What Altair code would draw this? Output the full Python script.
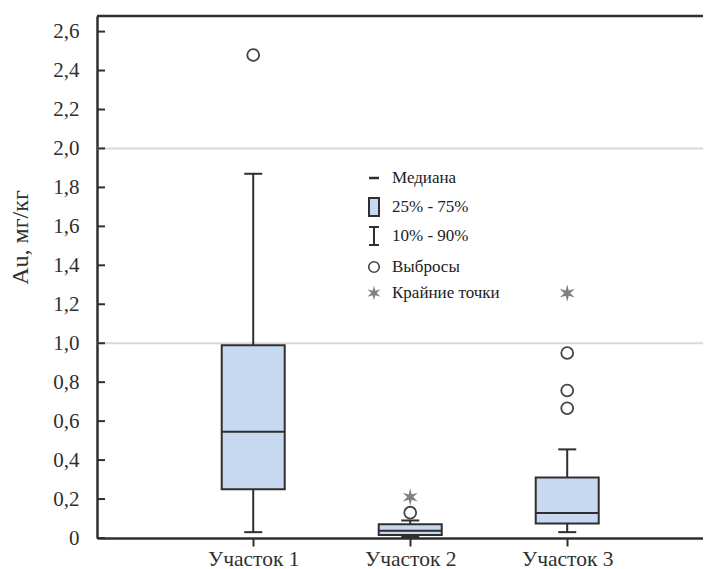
import altair as alt
import pandas as pd

# ---- data ----
sites = ["Участок 1", "Участок 2", "Участок 3"]
p10 = [0.03, 0.005, 0.03]
q1 = [0.25, 0.015, 0.075]
median = [0.545, 0.037, 0.128]
q3 = [0.99, 0.07, 0.31]
p90 = [1.87, 0.09, 0.455]

outlier_sites = ["Участок 1", "Участок 2", "Участок 3", "Участок 3", "Участок 3"]
outlier_values = [2.48, 0.13, 0.95, 0.757, 0.666]

extreme_sites = ["Участок 2", "Участок 3"]
extreme_values = [0.21, 1.257]

y_ticks = [0, 0.2, 0.4, 0.6, 0.8, 1.0, 1.2, 1.4, 1.6, 1.8, 2.0, 2.2, 2.4, 2.6]
grid_values = [1.0, 2.0]
legend_labels = ["Медиана", "25% - 75%", "10% - 90%", "Выбросы", "Крайние точки"]
y_title = "Au, мг/кг"

# ---- tables ----
box_df = pd.DataFrame({"site": sites, "p10": p10, "q1": q1, "median": median, "q3": q3, "p90": p90})
out_df = pd.DataFrame({"site": outlier_sites, "v": outlier_values})
ext_df = pd.DataFrame({"site": extreme_sites, "v": extreme_values})
tick_df = pd.DataFrame({"v": y_ticks})
grid_df = pd.DataFrame({"v": grid_values})

# ---- style ----
FONT = "'Liberation Serif', 'Times New Roman', 'DejaVu Serif', serif"
DARK = "#2f2f2f"
FILL = "#c6d9f0"
W, H = 606, 522
STAR = ("M0,-1 L0.175,-0.303 L0.866,-0.5 L0.35,0 L0.866,0.5 L0.175,0.303 "
        "L0,1 L-0.175,0.303 L-0.866,0.5 L-0.35,0 L-0.866,-0.5 L-0.175,-0.303 Z")

yscale = alt.Scale(domain=[0, 2.68], nice=False, zero=True)
yaxis = alt.Axis(
    values=y_ticks,
    labelExpr="datum.value == 0 ? '0' : replace(format(datum.value, '.1f'), '.', ',')",
    labelFont=FONT, labelFontSize=21, labelColor=DARK, labelPadding=18,
    ticks=False, tickSize=0, grid=False,
    domainColor=DARK, domainWidth=2.5,
    title=y_title, titleFont=FONT, titleFontSize=24, titleFontWeight="normal",
    titleColor=DARK, titleX=-70, titleY=221, titleAlign="center",
    titleBaseline="alphabetic",
)
xscale = alt.Scale(type="point", domain=sites, padding=0.93, align=0.535)
xaxis = alt.Axis(
    title=None, labelAngle=0, labelFont=FONT, labelFontSize=21.5, labelColor=DARK,
    labelPadding=2, tickSize=8, tickWidth=2, tickColor=DARK,
    domainColor=DARK, domainWidth=2.5, grid=False,
)


def Y(field):
    return alt.Y(f"{field}:Q", scale=yscale, axis=yaxis)


def X():
    return alt.X("site:N", scale=xscale, axis=xaxis, sort=sites)


grid = alt.Chart(grid_df).mark_rule(color="#d9d9d9", strokeWidth=2).encode(y=Y("v"))
top_border = alt.Chart(alt.Data(values=[{}])).mark_rule(color=DARK, strokeWidth=2.5).encode(
    x=alt.value(0), x2=alt.value(W), y=alt.value(0))
yticks = alt.Chart(tick_df).mark_rule(color=DARK, strokeWidth=2).encode(
    x=alt.value(0), x2=alt.value(8), y=Y("v"))

base = alt.Chart(box_df)
wh_hi = base.mark_rule(color=DARK, strokeWidth=2).encode(x=X(), y=Y("q3"), y2="p90")
wh_lo = base.mark_rule(color=DARK, strokeWidth=2).encode(x=X(), y=Y("p10"), y2="q1")
boxes = base.mark_bar(size=63, fill=FILL, stroke=DARK, strokeWidth=2).encode(x=X(), y=Y("q1"), y2="q3")
med = base.mark_tick(size=63, thickness=2, color=DARK, opacity=1).encode(x=X(), y=Y("median"))
cap_hi = base.mark_tick(size=18, thickness=2, color=DARK, opacity=1).encode(x=X(), y=Y("p90"))
cap_lo = base.mark_tick(size=18, thickness=2, color=DARK, opacity=1).encode(x=X(), y=Y("p10"))

outs = alt.Chart(out_df).mark_point(shape="circle", size=140, filled=False, color="#444444",
                                    strokeWidth=1.8, opacity=1).encode(x=X(), y=Y("v"))
exts = alt.Chart(ext_df).mark_point(shape=STAR, size=300, filled=True, color="#808080",
                                    opacity=1, strokeWidth=0).encode(x=X(), y=Y("v"))

# ---- legend (drawn) ----
LX, TX = 277, 295
rows = [162, 191, 220, 251, 277]
one = alt.Data(values=[{}])
lg = [
    alt.Chart(one).mark_rule(color=DARK, strokeWidth=2.5).encode(
        x=alt.value(LX - 5), x2=alt.value(LX + 5), y=alt.value(rows[0])),
    alt.Chart(one).mark_rect(fill=FILL, stroke=DARK, strokeWidth=2).encode(
        x=alt.value(LX - 5), x2=alt.value(LX + 5), y=alt.value(rows[1] - 9), y2=alt.value(rows[1] + 9)),
    alt.Chart(one).mark_rule(color=DARK, strokeWidth=2).encode(
        x=alt.value(LX), y=alt.value(rows[2] - 9), y2=alt.value(rows[2] + 9)),
    alt.Chart(one).mark_rule(color=DARK, strokeWidth=2).encode(
        x=alt.value(LX - 5), x2=alt.value(LX + 5), y=alt.value(rows[2] - 9)),
    alt.Chart(one).mark_rule(color=DARK, strokeWidth=2).encode(
        x=alt.value(LX - 5), x2=alt.value(LX + 5), y=alt.value(rows[2] + 9)),
    alt.Chart(one).mark_point(shape="circle", size=110, filled=False, color="#444444",
                              strokeWidth=1.6, opacity=1).encode(x=alt.value(LX), y=alt.value(rows[3])),
    alt.Chart(one).mark_point(shape=STAR, size=230, filled=True, color="#808080",
                              strokeWidth=0, opacity=1).encode(x=alt.value(LX), y=alt.value(rows[4])),
]
for i, lab in enumerate(legend_labels):
    lg.append(
        alt.Chart(alt.Data(values=[{"t": lab}])).mark_text(
            align="left", baseline="middle", font=FONT, fontSize=17, color="#222222"
        ).encode(x=alt.value(TX), y=alt.value(rows[i]), text="t:N")
    )

chart = alt.layer(
    grid, yticks, wh_hi, wh_lo, boxes, med, cap_hi, cap_lo, outs, exts, top_border, *lg
).properties(
    width=W, height=H,
    autosize=alt.AutoSizeParams(type="none"),
    padding={"left": 89, "top": 8, "right": 0, "bottom": 35},
    background="white",
).configure_view(stroke=None)

chart.save("out.html", embed_options={"renderer": "svg", "actions": False})
